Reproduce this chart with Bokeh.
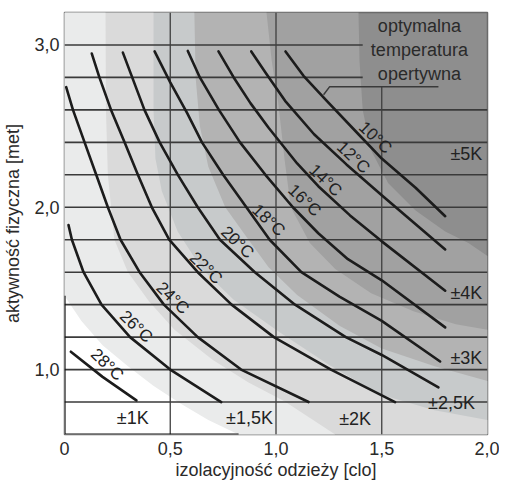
from bokeh.plotting import figure
from bokeh.models import Range1d, FixedTicker
from bokeh.core.properties import value
from bokeh.embed import file_html
from bokeh.resources import INLINE

FONT = "Liberation Sans"

# ---- axes ----
x_ticks = [0, 0.5, 1.0, 1.5, 2.0]
x_tick_labels = ["0", "0,5", "1,0", "1,5", "2,0"]
y_ticks = [1.0, 2.0, 3.0]
y_tick_labels = ["1,0", "2,0", "3,0"]

# ---- comfort bands (boundary curves, clo / met) ----
b6_clo = [1.39, 1.395, 1.41, 1.45, 1.53, 1.66, 1.80, 1.91, 2.0]
b6_met = [3.2, 2.9, 2.6, 2.35, 2.15, 1.98, 1.85, 1.78, 1.70]
b5_clo = [0.955, 0.98, 1.01, 1.04, 1.07, 1.16, 1.28, 1.45, 1.65, 1.85, 2.0]
b5_met = [3.2, 2.9, 2.65, 2.3, 2.0, 1.78, 1.62, 1.47, 1.36, 1.28, 1.245]
b4_clo = [0.614, 0.62, 0.64, 0.68, 0.76, 0.87, 0.965, 1.10, 1.30, 1.50, 1.75, 2.0]
b4_met = [3.2, 2.8, 2.5, 2.25, 2.0, 1.80, 1.63, 1.46, 1.27, 1.13, 1.02, 0.93]
b3_clo = [0.421, 0.421, 0.43, 0.46, 0.535, 0.65, 0.80, 1.017, 1.25, 1.485, 1.75, 2.0]
b3_met = [3.2, 2.6, 2.3, 2.1, 1.85, 1.62, 1.43, 1.23, 1.03, 0.85, 0.75, 0.69]
b2_clo = [0.194, 0.196, 0.205, 0.236, 0.30, 0.40, 0.52, 0.70, 0.87, 1.04, 1.28]
b2_met = [3.2, 2.6, 2.2, 1.8, 1.6, 1.42, 1.245, 1.06, 0.92, 0.805, 0.60]
b1_clo = [0.0, 0.08, 0.18, 0.30, 0.42, 0.55, 0.68, 0.823]
b1_met = [1.455, 1.30, 1.15, 1.02, 0.90, 0.79, 0.69, 0.60]

band_colors = ["#a1a1a1", "#b3b3b3", "#c7cacb", "#dadada", "#eaebeb", "#ffffff"]
outer_color = "#8e8e8e"
band_labels = ["±1K", "±1,5K", "±2K", "±2,5K", "±3K", "±4K", "±5K"]
band_label_clo = [0.323, 0.875, 1.374, 1.83, 1.90, 1.90, 1.90]
band_label_met = [0.703, 0.703, 0.693, 0.795, 1.072, 1.47, 2.33]

# ---- operative temperature curves ----
c10_clo = [1.045, 1.13, 1.24, 1.39, 1.50, 1.66, 1.80]
c10_met = [2.96, 2.81, 2.656, 2.45, 2.30, 2.12, 1.945]
c12_clo = [0.883, 0.95, 1.043, 1.18, 1.333, 1.50, 1.80]
c12_met = [2.96, 2.83, 2.656, 2.45, 2.264, 2.074, 1.74]
c14_clo = [0.728, 0.80, 0.88, 0.965, 1.10, 1.20, 1.35, 1.50, 1.80]
c14_met = [2.96, 2.80, 2.64, 2.49, 2.27, 2.13, 1.95, 1.79, 1.486]
c16_clo = [0.583, 0.64, 0.73, 0.83, 0.95, 1.08, 1.20, 1.34, 1.50, 1.80]
c16_met = [2.963, 2.80, 2.60, 2.40, 2.20, 2.00, 1.84, 1.68, 1.55, 1.26]
c18_clo = [0.426, 0.50, 0.58, 0.65, 0.75, 0.86, 0.97, 1.12, 1.30, 1.50, 1.776]
c18_met = [2.96, 2.77, 2.58, 2.40, 2.20, 2.00, 1.80, 1.60, 1.45, 1.30, 1.05]
c20_clo = [0.276, 0.378, 0.45, 0.536, 0.63, 0.735, 0.90, 1.09, 1.33, 1.50, 1.768]
c20_met = [2.953, 2.60, 2.40, 2.20, 2.00, 1.80, 1.60, 1.40, 1.20, 1.09, 0.89]
c22_clo = [0.129, 0.165, 0.22, 0.284, 0.347, 0.413, 0.495, 0.63, 0.79, 0.99, 1.26, 1.563]
c22_met = [2.947, 2.80, 2.60, 2.40, 2.20, 2.00, 1.80, 1.60, 1.40, 1.20, 1.00, 0.80]
c24_clo = [0.008, 0.04, 0.095, 0.15, 0.205, 0.265, 0.355, 0.47, 0.63, 0.835, 1.154]
c24_met = [2.74, 2.60, 2.40, 2.20, 2.00, 1.80, 1.60, 1.40, 1.20, 1.00, 0.80]
c26_clo = [0.019, 0.035, 0.09, 0.175, 0.31, 0.50, 0.741]
c26_met = [1.89, 1.80, 1.60, 1.40, 1.20, 1.00, 0.80]
c28_clo = [0.03, 0.18, 0.34]
c28_met = [1.11, 0.955, 0.81]

curve_labels = ["28°C", "26°C", "24°C", "22°C", "20°C", "18°C", "16°C", "14°C", "12°C", "10°C"]
curve_label_clo = [0.202, 0.339, 0.512, 0.669, 0.818, 0.965, 1.135, 1.234, 1.366, 1.470]
curve_label_met = [1.031, 1.265, 1.44, 1.625, 1.784, 1.92, 2.043, 2.166, 2.307, 2.429]

# ---- grid ----
hgrid_met = [0.8, 1.0, 1.2, 1.4, 1.6, 1.8, 2.0, 2.2, 2.4, 2.6, 2.8, 3.0]
hgrid_end = [2.0, 2.0, 2.0, 2.0, 2.0, 2.0, 2.0, 2.0, 2.0, 2.0, 1.41, 1.41]
vgrid_clo = [0.5, 1.0, 1.5]
vgrid_top = [3.2, 3.2, 2.742]

note_text = "optymalna\ntemperatura\nopertywna"
note_clo = 1.678
note_met = 2.969
leader_clo = [1.225, 1.253, 1.768]
leader_met = [2.693, 2.742, 2.742]

X0, X1, Y0, Y1 = 0.0, 2.0, 0.6, 3.2

p = figure(
    frame_width=423, frame_height=422,
    x_range=Range1d(X0, X1), y_range=Range1d(Y0, Y1),
    output_backend="svg", toolbar_location=None,
    min_border_left=61, min_border_top=12, min_border_right=12, min_border_bottom=6,
)
p.background_fill_color = outer_color
p.border_fill_color = "white"
p.grid.visible = False
p.outline_line_color = "#6a6a6a"
p.outline_line_width = 1.5

# bands: fill region lower-left of each boundary
boundaries = [(b6_clo, b6_met), (b5_clo, b5_met), (b4_clo, b4_met),
              (b3_clo, b3_met), (b2_clo, b2_met), (b1_clo, b1_met)]
for (bx, by), col in zip(boundaries, band_colors):
    xs = list(bx) + [bx[-1], X0, X0]
    ys = list(by) + [Y0, Y0, by[0]]
    p.patch(xs, ys, fill_color=col, line_color=None)

# grid lines
p.segment(x0=[X0] * len(hgrid_met), y0=hgrid_met, x1=hgrid_end, y1=hgrid_met,
          line_color="#3a3a3a", line_width=1.6)
p.segment(x0=vgrid_clo, y0=[Y0] * len(vgrid_clo), x1=vgrid_clo, y1=vgrid_top,
          line_color="#3f3f3f", line_width=1.3)

# border of the ±1K region on the axes
p.line([X0, X0, b1_clo[-1]], [b1_met[0], Y0, Y0], line_color="#111111", line_width=2.2)

# leader line
p.line(leader_clo, leader_met, line_color="#3a3a3a", line_width=1.5)

# curves
for cx, cy in [(c28_clo, c28_met), (c26_clo, c26_met), (c24_clo, c24_met),
               (c22_clo, c22_met), (c20_clo, c20_met), (c18_clo, c18_met),
               (c16_clo, c16_met), (c14_clo, c14_met), (c12_clo, c12_met),
               (c10_clo, c10_met)]:
    p.line(cx, cy, line_color="#1c1c1c", line_width=2.6, line_join="round", line_cap="round")

p.text(x=curve_label_clo, y=curve_label_met, text=curve_labels, angle=-0.76,
       text_font=value(FONT), text_font_size="17px", text_color="#222222",
       text_align="center", text_baseline="middle")

p.text(x=band_label_clo, y=band_label_met, text=band_labels,
       text_font=value(FONT), text_font_size="18px", text_color="#222222",
       text_align="center", text_baseline="middle")

p.text(x=[note_clo], y=[note_met], text=[note_text],
       text_font=value(FONT), text_font_size="18px", text_color="#2a2a2a",
       text_align="center", text_baseline="middle", text_line_height=1.2)

# axes
p.xaxis.ticker = FixedTicker(ticks=x_ticks)
p.xaxis.major_label_overrides = {t: l for t, l in zip(x_ticks, x_tick_labels)}
p.yaxis.ticker = FixedTicker(ticks=y_ticks)
p.yaxis.major_label_overrides = {t: l for t, l in zip(y_ticks, y_tick_labels)}
p.xaxis.axis_label = "izolacyjność odzieży [clo]"
p.yaxis.axis_label = "aktywność fizyczna [met]"
for ax in (p.xaxis, p.yaxis):
    ax.axis_line_color = None
    ax.major_tick_line_color = None
    ax.minor_tick_line_color = None
    ax.major_tick_in = 0
    ax.major_tick_out = 0
    ax.minor_tick_in = 0
    ax.minor_tick_out = 0
    ax.major_label_text_font = FONT
    ax.major_label_text_font_size = "18px"
    ax.major_label_text_color = "#2a2a2a"
    ax.axis_label_text_font = FONT
    ax.axis_label_text_font_size = "18px"
    ax.axis_label_text_font_style = "normal"
    ax.axis_label_text_color = "#2a2a2a"
p.xaxis.major_label_standoff = 7
p.xaxis.axis_label_standoff = 2
p.yaxis.major_label_standoff = 5
p.yaxis.axis_label_standoff = 8

open("out.html", "w").write(file_html(p, INLINE))
